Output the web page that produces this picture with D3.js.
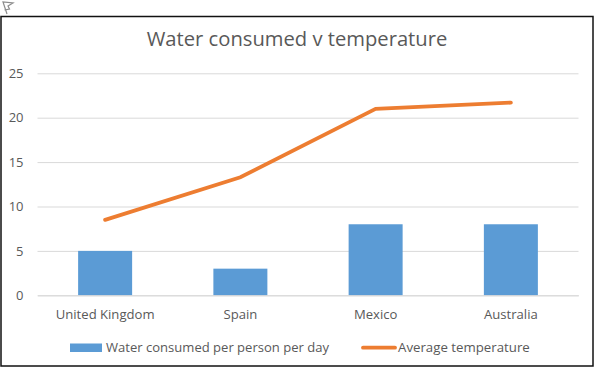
<!DOCTYPE html>
<html>
<head>
<meta charset="utf-8">
<script src="https://d3js.org/d3.v7.min.js"></script>
<style>
  html, body { margin: 0; padding: 0; background: #fff; }
  svg { display: block; }
  svg text { font-family: "Open Sans", sans-serif; }
</style>
</head>
<body>
<div id="chart"></div>
<script>
const countries = ["United Kingdom", "Spain", "Mexico", "Australia"];
const waterConsumed = [5, 3, 8, 8];
const avgTemperature = [8.5, 13.3, 21, 21.7];
const yTicks = [0, 5, 10, 15, 20, 25];

const width = 594, height = 367;
const svg = d3.select("#chart").append("svg").attr("width", width).attr("height", height);

// outer frame
svg.append("rect").attr("x", 1).attr("y", 16.5).attr("width", 592).attr("height", 349.5)
   .attr("fill", "#fff").attr("stroke", "#111").attr("stroke-width", 1.5);

// little flag icon top left
svg.append("path").attr("d", "M7 14L3 2L13 3L8 6L9.5 9L4.5 10")
   .attr("fill", "none").attr("stroke", "#8c8c8c").attr("stroke-width", 1.2);

const x = d3.scaleBand().domain(countries).range([37.5, 578.5]);
const y = d3.scaleLinear().domain([0, 25]).range([295.3, 73.3]);
const barWidth = 54;

svg.append("text").attr("x", 297).attr("y", 46).attr("text-anchor", "middle")
   .attr("font-size", 20.2).attr("fill", "#595959").text("Water consumed v temperature");

const leftAxis = svg.append("g").attr("transform", "translate(37.5,0)")
   .call(d3.axisLeft(y).tickValues(yTicks).tickSize(-541));
leftAxis.select(".domain").remove();
leftAxis.selectAll(".tick line").attr("stroke", "#d9d9d9");
leftAxis.selectAll(".tick text").attr("x", -14).attr("font-size", 13).attr("fill", "#595959");

svg.selectAll(".bar").data(countries).join("rect").attr("class", "bar")
   .attr("x", d => x(d) + x.bandwidth() / 2 - barWidth / 2)
   .attr("width", barWidth)
   .attr("y", (d, i) => y(waterConsumed[i]))
   .attr("height", (d, i) => y(0) - y(waterConsumed[i]))
   .attr("fill", "#5b9bd5");

const bottomAxis = svg.append("g").attr("transform", "translate(0,295.3)")
   .call(d3.axisBottom(x).tickSize(0));
bottomAxis.select(".domain").attr("stroke", "#d9d9d9");
bottomAxis.selectAll(".tick text").attr("dy", 0).attr("y", 24).attr("font-size", 13.1).attr("fill", "#595959");

const line = d3.line().x((d, i) => x(countries[i]) + x.bandwidth() / 2).y(d => y(d));
svg.append("path").datum(avgTemperature).attr("d", line)
   .attr("fill", "none").attr("stroke", "#ed7d31").attr("stroke-width", 3.8).attr("stroke-linecap", "round");

// legend
const legend = svg.append("g");
legend.append("rect").attr("x", 70).attr("y", 343.5).attr("width", 32).attr("height", 8.5).attr("fill", "#5b9bd5");
legend.append("text").attr("x", 106).attr("y", 352).attr("font-size", 13.05).attr("fill", "#595959")
   .text("Water consumed per person per day");
legend.append("line").attr("x1", 363).attr("x2", 395).attr("y1", 347.7).attr("y2", 347.7)
   .attr("stroke", "#ed7d31").attr("stroke-width", 3.8).attr("stroke-linecap", "round");
legend.append("text").attr("x", 398).attr("y", 352).attr("font-size", 13.25).attr("fill", "#595959")
   .text("Average temperature");
</script>
</body>
</html>
